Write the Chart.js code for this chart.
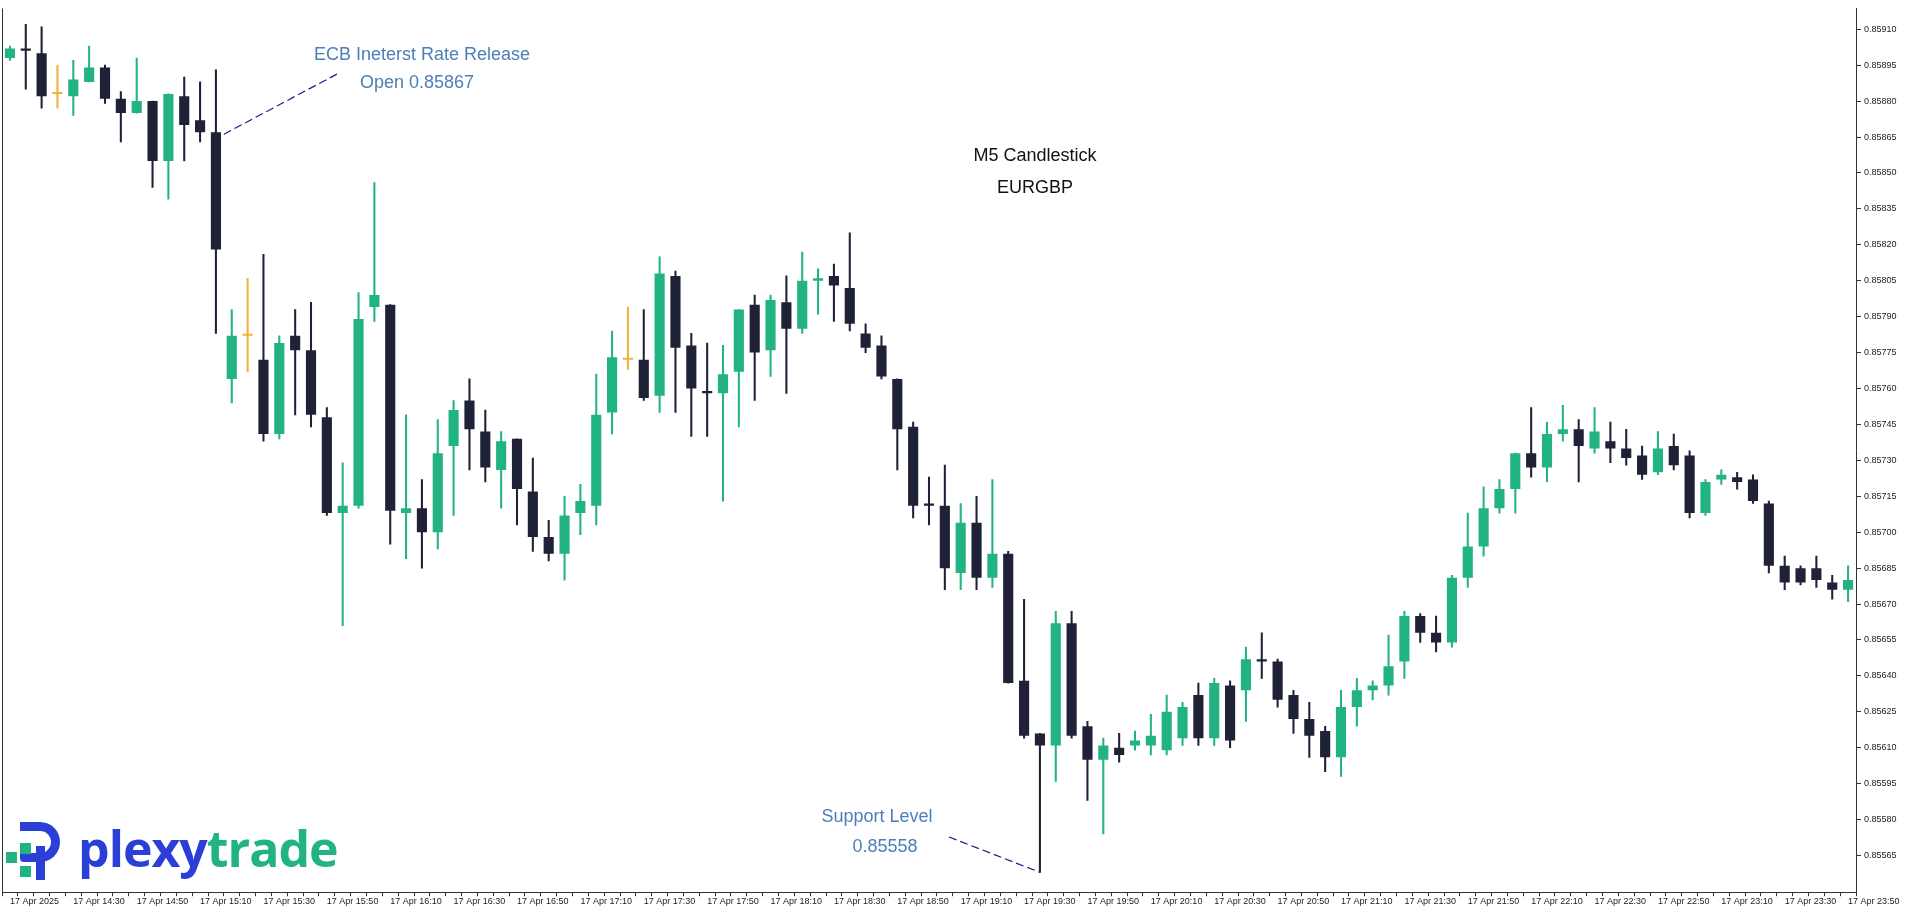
<!DOCTYPE html>
<html><head><meta charset="utf-8">
<script src="https://cdn.jsdelivr.net/npm/chart.js@4.4.1/dist/chart.umd.min.js"></script>
<style>
html,body{margin:0;padding:0;background:#fff;width:1913px;height:914px;overflow:hidden;font-family:Arial,"Liberation Sans",sans-serif}
#wrap{position:absolute;left:0;top:0;width:1913px;height:914px}
.t{position:absolute;white-space:nowrap;transform:translateX(-50%)}
.ann{color:#4b7fb6;font-size:18px}
.ttl{color:#111;font-size:18px}
</style></head><body>
<div id="wrap"><canvas id="c" width="1913" height="914"></canvas></div>
<div class="t ttl" style="left:1035px;top:145px">M5 Candlestick</div>
<div class="t ttl" style="left:1035px;top:177px">EURGBP</div>
<div class="t ann" style="left:422px;top:44px">ECB Ineterst Rate Release</div>
<div class="t ann" style="left:417px;top:72px">Open 0.85867</div>
<div class="t ann" style="left:877px;top:806px">Support Level</div>
<div class="t ann" style="left:885px;top:836px">0.85558</div>
<div style="position:absolute;left:6px;top:818px;width:66px;height:66px">
  <div style="position:absolute;left:14px;top:4px;width:40px;height:40px;border:9px solid #2b3fd6;border-radius:4px 22px 22px 4px;box-sizing:border-box;border-left-width:0"></div>
  <div style="position:absolute;left:14px;top:4px;width:16px;height:9px;background:#2b3fd6"></div>
  <div style="position:absolute;left:30px;top:28px;width:9px;height:34px;background:#2b3fd6"></div>
  <div style="position:absolute;left:14px;top:25px;width:11px;height:11px;background:#22b383"></div>
  <div style="position:absolute;left:0px;top:34px;width:11px;height:11px;background:#22b383"></div>
  <div style="position:absolute;left:14px;top:48px;width:11px;height:11px;background:#22b383"></div>
</div>
<div style="position:absolute;left:78px;top:818px;font-family:'Open Sans',sans-serif;font-weight:700;font-size:50px;line-height:60px;letter-spacing:-1px"><span style="color:#2b3fd6">plexy</span><span style="color:#22b383">trade</span></div>
<script>
const opens=[.85898,.85902,.85900,.85883,.85882,.85888,.85894,.85881,.85875,.85880,.85855,.85882,.85872,.85867,.85764,.85782,.85772,.85741,.85782,.85776,.85748,.85708,.85711,.85794,.85795,.85708,.85710,.85700,.85736,.85755,.85742,.85726,.85739,.85717,.85698,.85691,.85708,.85711,.85750,.85772,.85772,.85757,.85807,.85778,.85759,.85758,.85767,.85795,.85776,.85796,.85785,.85805,.85807,.85802,.85783,.85778,.85764,.85744,.85712,.85711,.85683,.85704,.85681,.85691,.85638,.85616,.85611,.85662,.85619,.85605,.85610,.85611,.85611,.85609,.85614,.85632,.85614,.85636,.85634,.85647,.85646,.85632,.85622,.85617,.85606,.85627,.85634,.85636,.85646,.85665,.85658,.85654,.85681,.85694,.85710,.85718,.85733,.85727,.85741,.85743,.85735,.85738,.85735,.85732,.85725,.85736,.85732,.85708,.85722,.85723,.85722,.85712,.85686,.85685,.85685,.85679,.85676];
const highs=[.85903,.85912,.85911,.85895,.85897,.85903,.85895,.85884,.85898,.85880,.85883,.85890,.85888,.85893,.85793,.85806,.85816,.85782,.85793,.85796,.85752,.85729,.85800,.85846,.85795,.85749,.85722,.85747,.85755,.85764,.85751,.85742,.85739,.85731,.85705,.85715,.85720,.85766,.85784,.85794,.85793,.85815,.85809,.85783,.85779,.85778,.85793,.85799,.85799,.85807,.85817,.85810,.85812,.85825,.85787,.85782,.85764,.85746,.85723,.85728,.85712,.85715,.85722,.85692,.85672,.85616,.85667,.85667,.85621,.85614,.85616,.85617,.85624,.85632,.85629,.85637,.85639,.85638,.85652,.85658,.85647,.85634,.85629,.85619,.85634,.85639,.85638,.85657,.85667,.85666,.85665,.85682,.85708,.85719,.85722,.85733,.85752,.85746,.85753,.85747,.85752,.85746,.85743,.85736,.85742,.85741,.85734,.85722,.85726,.85725,.85724,.85713,.85690,.85686,.85690,.85682,.85686];
const lows=[.85897,.85885,.85877,.85877,.85874,.85888,.85879,.85863,.85875,.85844,.85839,.85855,.85863,.85783,.85754,.85767,.85738,.85739,.85749,.85744,.85707,.85661,.85710,.85788,.85695,.85689,.85685,.85693,.85707,.85726,.85721,.85710,.85703,.85692,.85688,.85680,.85699,.85703,.85741,.85768,.85755,.85750,.85750,.85740,.85740,.85713,.85744,.85755,.85765,.85758,.85783,.85791,.85788,.85784,.85775,.85764,.85726,.85706,.85703,.85676,.85676,.85676,.85677,.85637,.85614,.85558,.85596,.85614,.85588,.85574,.85604,.85609,.85607,.85607,.85611,.85611,.85611,.85610,.85621,.85639,.85627,.85616,.85606,.85600,.85598,.85619,.85630,.85632,.85639,.85654,.85650,.85652,.85677,.85690,.85708,.85708,.85723,.85721,.85738,.85721,.85733,.85729,.85728,.85722,.85724,.85726,.85706,.85707,.85720,.85718,.85712,.85683,.85676,.85678,.85677,.85672,.85671];
const closes=[.85902,.85901,.85882,.85883,.85889,.85894,.85881,.85875,.85880,.85855,.85883,.85870,.85867,.85818,.85782,.85782,.85741,.85779,.85776,.85749,.85708,.85711,.85789,.85799,.85709,.85710,.85700,.85733,.85751,.85743,.85727,.85738,.85718,.85698,.85691,.85707,.85713,.85749,.85773,.85772,.85756,.85808,.85777,.85760,.85758,.85766,.85793,.85775,.85797,.85785,.85805,.85806,.85803,.85787,.85777,.85765,.85743,.85711,.85711,.85685,.85704,.85681,.85691,.85637,.85615,.85611,.85662,.85615,.85605,.85611,.85607,.85613,.85615,.85625,.85627,.85614,.85637,.85613,.85647,.85646,.85630,.85622,.85615,.85606,.85627,.85634,.85636,.85644,.85665,.85658,.85654,.85681,.85694,.85710,.85718,.85733,.85727,.85741,.85743,.85736,.85742,.85735,.85731,.85724,.85735,.85728,.85708,.85721,.85724,.85721,.85713,.85686,.85679,.85679,.85680,.85676,.85680];
const yTicks=[0.85565,0.85580,0.85595,0.85610,0.85625,0.85640,0.85655,0.85670,0.85685,0.85700,0.85715,0.85730,0.85745,0.85760,0.85775,0.85790,0.85805,0.85820,0.85835,0.85850,0.85865,0.85880,0.85895,0.85910];
const startHour=14, startMin=10, stepMin=5, labelEvery=4;
const categories=opens.map((_,i)=>{const m=startHour*60+startMin+i*stepMin;return '17 Apr '+String(Math.floor(m/60)).padStart(2,'0')+':'+String(m%60).padStart(2,'0');});
const xLabelFirst='17 Apr 2025';
const GREEN='#22b383', DARK='#1f2137', GOLD='#f1b13a';
const col=i=>opens[i]===closes[i]?GOLD:(closes[i]>opens[i]?GREEN:DARK);
const cols=opens.map((_,i)=>col(i));
const annot={id:'annot',afterDatasetsDraw(ch){
  const c=ch.ctx,x=ch.scales.x,y=ch.scales.y;
  c.save();c.strokeStyle='#1a1a8c';c.lineWidth=1.2;c.setLineDash([8,4]);
  c.beginPath();c.moveTo(x.getPixelForValue(13)+8,y.getPixelForValue(opens[13])+2);c.lineTo(339,73);c.stroke();
  c.beginPath();c.moveTo(949,837);c.lineTo(x.getPixelForValue(65),y.getPixelForValue(lows[65]));c.stroke();
  c.restore();
  c.fillStyle='#333';c.fillRect(2,ch.chartArea.top,1,ch.chartArea.bottom-ch.chartArea.top);
}};
new Chart(document.getElementById('c'),{
  type:'bar',
  data:{labels:categories,datasets:[
    {data:lows.map((l,i)=>[l,highs[i]]),backgroundColor:cols,barThickness:1.4,grouped:false,order:2},
    {data:opens.map((o,i)=>[Math.min(o,closes[i]),Math.max(o,closes[i])]),backgroundColor:cols,borderWidth:0,barPercentage:0.64,categoryPercentage:1,minBarLength:2,grouped:false,order:1}
  ]},
  plugins:[annot],
  options:{responsive:false,animation:false,events:[],
    layout:{padding:{top:6,left:2,right:0,bottom:7}},
    plugins:{legend:{display:false},tooltip:{enabled:false}},
    scales:{
      x:{offset:true,grid:{display:true,drawOnChartArea:false,tickLength:4,color:'#333'},border:{color:'#333',width:1},
        ticks:{autoSkip:false,maxRotation:0,align:'start',padding:0,color:'#222',font:{size:9,family:'Arial'},
          callback:(v,i)=>i%labelEvery===0?(i===0?xLabelFirst:categories[i]):''}},
      y:{position:'right',min:0.855497,max:0.859187,grid:{drawOnChartArea:false,tickLength:5,color:'#333'},border:{color:'#333',width:1},
        afterBuildTicks:a=>{a.ticks=yTicks.map(v=>({value:v}));},
        afterFit:a=>{a.width=57;},
        ticks:{color:'#222',padding:3,font:{size:9,family:'Arial'},callback:v=>v.toFixed(5)}}
    }}
});
</script></body></html>
